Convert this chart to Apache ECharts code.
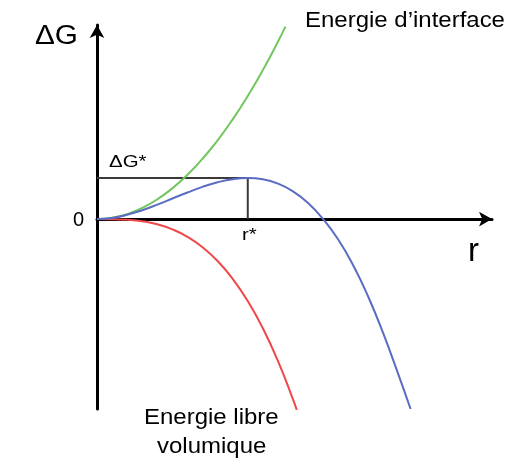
<!DOCTYPE html>
<html>
<head>
<meta charset="utf-8">
<script src="https://cdn.jsdelivr.net/npm/echarts@6/dist/echarts.min.js"></script>
<style>
html,body{margin:0;padding:0;background:#fff;}
#chart{width:531px;height:471px;}
</style>
</head>
<body>
<div id="chart"></div>
<script>
// Data (arbitrary units: r* = 10, ΔG* = 10)
const totalR = [0,1,2,3,4,5,6,7,8,9,10,11,12,13,14,15,16,17,18,19,20,20.8];
const totalG = [0,0.28,1.04,2.16,3.52,5.0,6.48,7.84,8.96,9.72,10,9.68,8.64,6.76,3.92,0,-5.0,-11.3,-19.0,-28.0,-38.0,-46.3];
const interfaceR = [0,1,2,3,4,5,6,7,8,9,10,11,12,12.5];
const interfaceG = [0,0.3,1.2,2.7,4.8,7.5,10.8,14.7,19.2,24.3,30,36.3,43.2,46.9];
const volumeR = [0,1,2,3,4,5,6,7,8,9,10,11,12,13,13.25];
const volumeG = [0,-0.02,-0.16,-0.54,-1.28,-2.5,-4.32,-6.86,-10.24,-14.58,-20,-26.62,-34.56,-43.94,-46.5];
const rStar = 10;
const gStar = 10;
const xRange = [0, 26.2];
const yRange = [-46.3, 47.3];

const pairs = (xs, ys) => xs.map((x, i) => [x, ys[i]]);
const FONT = 'Liberation Sans, Arial, sans-serif';

const chart = echarts.init(document.getElementById('chart'), null, {renderer: 'canvas'});
chart.setOption({
  backgroundColor: '#ffffff',
  animation: false,
  grid: {left: 97, right: 39, top: 25, bottom: 62},
  xAxis: {
    type: 'value', min: xRange[0], max: xRange[1],
    axisLine: {onZero: true, lineStyle: {color: '#000', width: 3}, symbol: ['none', 'arrow'], symbolSize: [11, 13]},
    axisTick: {show: false}, axisLabel: {show: false}, splitLine: {show: false}
  },
  yAxis: {
    type: 'value', min: yRange[0], max: yRange[1],
    axisLine: {onZero: true, lineStyle: {color: '#000', width: 3}, symbol: ['none', 'arrow'], symbolSize: [11, 13]},
    axisTick: {show: false}, axisLabel: {show: false}, splitLine: {show: false}
  },
  series: [
    {type: 'line', data: [[0, gStar], [rStar, gStar], [rStar, 0]], showSymbol: false,
     lineStyle: {color: '#3a3a3a', width: 2}, z: 1},
    {type: 'line', data: pairs(interfaceR, interfaceG), smooth: true, showSymbol: false,
     lineStyle: {color: '#72c65e', width: 2}, z: 2},
    {type: 'line', data: pairs(volumeR, volumeG), smooth: true, showSymbol: false,
     lineStyle: {color: '#f0484a', width: 2}, z: 2},
    {type: 'line', data: pairs(totalR, totalG), smooth: true, showSymbol: false,
     lineStyle: {color: '#5a6cc4', width: 2}, z: 3}
  ],
  graphic: [
    {type: 'text', x: 35, y: 23, scaleX: 1.1, style: {text: 'ΔG', font: '27px ' + FONT, fill: '#000'}},
    {type: 'text', x: 73, y: 210, style: {text: '0', font: '20px ' + FONT, fill: '#000'}},
    {type: 'text', x: 109, y: 154, scaleX: 1.2, style: {text: 'ΔG*', font: '17px ' + FONT, fill: '#000'}},
    {type: 'text', x: 242, y: 227, scaleX: 1.2, style: {text: 'r*', font: '17px ' + FONT, fill: '#000'}},
    {type: 'text', x: 468, y: 235, style: {text: 'r', font: '33px ' + FONT, fill: '#000'}},
    {type: 'text', x: 305, y: 10, scaleX: 1.09, style: {text: 'Energie d\u2019interface', font: '22px ' + FONT, fill: '#000'}},
    {type: 'text', x: 144, y: 407, scaleX: 1.09, style: {text: 'Energie libre', font: '22px ' + FONT, fill: '#000'}},
    {type: 'text', x: 157, y: 436, scaleX: 1.09, style: {text: 'volumique', font: '22px ' + FONT, fill: '#000'}}
  ]
});
</script>
</body>
</html>
